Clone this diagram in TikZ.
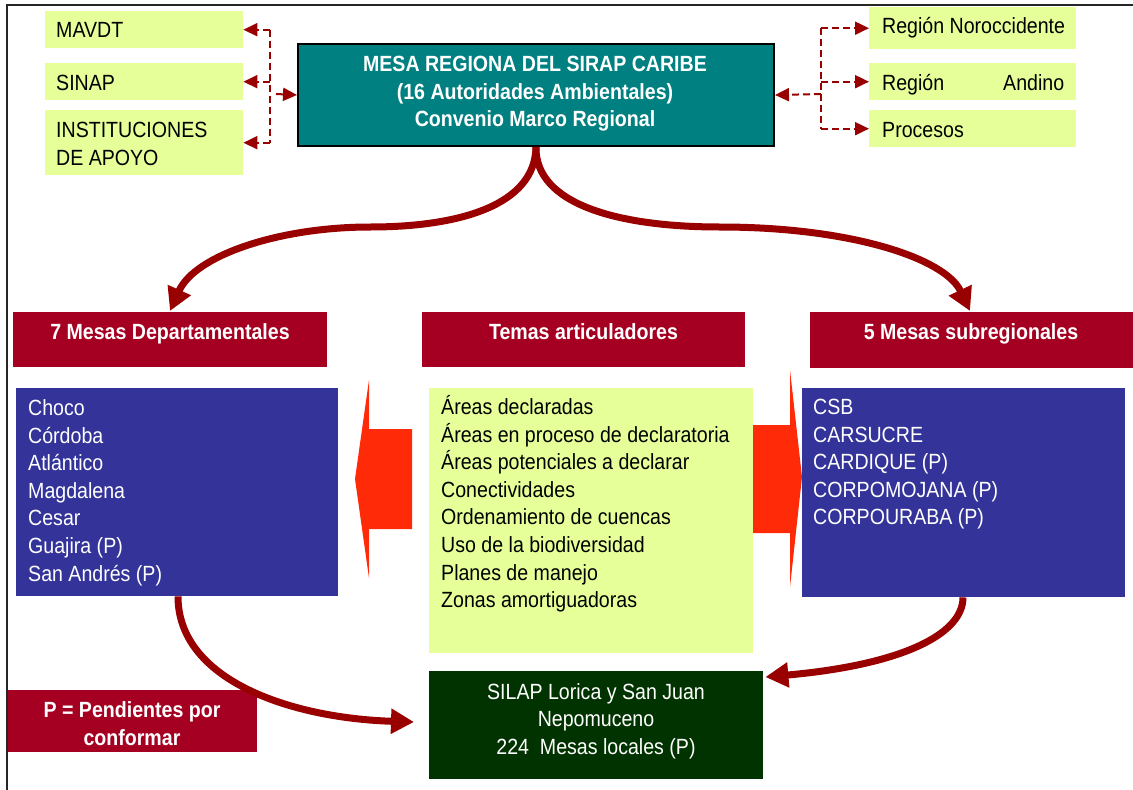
\documentclass[tikz,border=0pt]{standalone}
\usepackage{fontspec}
\setmainfont{Liberation Sans}[FakeStretch=0.89]
\usetikzlibrary{arrows.meta,calc}
\definecolor{boxlime}{HTML}{E6FF99}
\definecolor{tealbox}{HTML}{008080}
\definecolor{crimbox}{HTML}{A50021}
\definecolor{bluebox}{HTML}{333399}
\definecolor{greenbox}{HTML}{003300}
\definecolor{arrowred}{HTML}{990000}
\definecolor{blockred}{HTML}{FF2A08}
\tikzset{
  fbox/.style={rectangle, inner sep=0pt, anchor=north west},
  txt/.style={inner sep=0pt, font=\fontsize{22}{27.6}\selectfont},
  btxt/.style={inner sep=0pt, font=\fontsize{22}{27.6}\selectfont\bfseries},
  dasharr/.style={draw=arrowred, line width=2pt, dash pattern=on 7pt off 4pt, -{Triangle[length=14pt,width=13pt]}},
  dashline/.style={draw=arrowred, line width=2pt, dash pattern=on 7pt off 4pt},
  bigarr/.style={draw=arrowred, line width=7pt, -{Triangle[length=23pt,width=24pt]}},
}
\begin{document}
\begin{tikzpicture}[x=1pt,y=-1pt]
\useasboundingbox (0,0) rectangle (1133,790);
\fill[white] (0,0) rectangle (1133,790);
\draw[line width=2pt, black!85] (7,790) -- (7,5) -- (1133,5);

% top left boxes
\node[fbox, fill=boxlime, minimum width=198, minimum height=37] (mavdt) at (45,11) {};
\node[fbox, fill=boxlime, minimum width=198, minimum height=37] (sinap) at (45,63) {};
\node[fbox, fill=boxlime, minimum width=198, minimum height=65] (inst) at (45,110) {};
\node[txt, anchor=base west] (tmavdt) at (56,37.5) {MAVDT};
\node[txt, anchor=base west] (tsinap) at (56,90.5) {SINAP};
\node[txt, anchor=north west, align=left] (tinst) at (56,118) {\strut INSTITUCIONES\\DE APOYO};

% top right boxes
\node[fbox, fill=boxlime, minimum width=207, minimum height=42] (noro) at (869,7) {};
\node[fbox, fill=boxlime, minimum width=207, minimum height=37] (andino) at (869,63) {};
\node[fbox, fill=boxlime, minimum width=207, minimum height=37] (proc) at (869,110) {};
\node[txt, anchor=base west] (tnoro) at (882,33.5) {Región Noroccidente};
\node[txt, anchor=base west] (tandino) at (882,90.5) {\makebox[182pt]{Región\hfill Andino}};
\node[txt, anchor=base west] (tproc) at (882,137.5) {Procesos};

% main box
\node[fbox, fill=tealbox, draw=black, line width=2pt, minimum width=476, minimum height=102] (main) at (297,43) {};
\node[btxt, text=white, anchor=north, align=center] (tmain) at (535,52) {\strut MESA REGIONA DEL SIRAP CARIBE\\(16 Autoridades Ambientales)\\Convenio Marco Regional};

% dashed connectors left
\coordinate (lj) at (270,94);
\draw[dashline] (lj |- mavdt.east) -- (lj |- inst.east);
\draw[dasharr] (lj |- mavdt.east) -- (mavdt.east);
\draw[dasharr] (lj |- sinap.east) -- (sinap.east);
\draw[dasharr] (lj |- inst.east) -- (inst.east);
\draw[dasharr] ([xshift=6pt]lj) -- (main.west);

% dashed connectors right
\coordinate (rj) at (821,94);
\draw[dashline] (rj |- noro.west) -- (rj |- proc.west);
\draw[dasharr] (rj |- noro.west) -- (noro.west);
\draw[dasharr] (rj |- andino.west) -- (andino.west);
\draw[dasharr] (rj |- proc.west) -- (proc.west);
\draw[dasharr] (rj) -- (main.east);

% headers
\node[fbox, fill=crimbox, minimum width=314, minimum height=55] (hdep) at (13,312) {};
\node[fbox, fill=crimbox, minimum width=323, minimum height=55] (htem) at (422,312) {};
\node[fbox, fill=crimbox, minimum width=323, minimum height=56] (hsub) at (810,312) {};
\node[btxt, text=white, anchor=base] (thdep) at (170,339.5) {7 Mesas Departamentales};
\node[btxt, text=white, anchor=base] (thtem) at (583.5,339.5) {Temas articuladores};
\node[btxt, text=white, anchor=base] (thsub) at (971,339.5) {5 Mesas subregionales};

% curved arrows from main
\draw[bigarr] (main.south) .. controls (535,205) and (460,227) .. (370,227)
   .. controls (280,227) and (195,255) .. ([shift={(157,-1)}]hdep.north west);
\draw[bigarr] (main.south) .. controls (535,205) and (620,227) .. (720,227)
   .. controls (850,227) and (945,258) .. ([shift={(160,-1)}]hsub.north west);

% lists
\node[fbox, fill=bluebox, minimum width=322, minimum height=208] (dep) at (16,388) {};
\node[fbox, fill=bluebox, minimum width=323, minimum height=209] (sub) at (802,388) {};
\node[fbox, fill=boxlime, minimum width=324, minimum height=265] (tem) at (429,388) {};
\node[txt, text=white, anchor=north west, align=left] (tdep) at (28,396)
  {\strut Choco\\Córdoba\\Atlántico\\Magdalena\\Cesar\\Guajira (P)\\San Andrés (P)};
\node[txt, text=white, anchor=north west, align=left] (tsub) at (813,395)
  {\strut CSB\\CARSUCRE\\CARDIQUE (P)\\CORPOMOJANA (P)\\CORPOURABA (P)};
\node[txt, anchor=north west, align=left] (ttem) at (441,395)
  {\strut Áreas declaradas\\Áreas en proceso de declaratoria\\Áreas potenciales a declarar\\Conectividades\\Ordenamiento de cuencas\\Uso de la biodiversidad\\Planes de manejo\\Zonas amortiguadoras};

% block arrows
\fill[blockred] (412,429) -- (369,429) -- (369,380) -- (355,479) -- (369,578) -- (369,529) -- (412,529) -- cycle;
\fill[blockred] (753,425) -- (790,425) -- (790,370) -- (802,477) -- (790,587) -- (790,533) -- (753,533) -- cycle;

% bottom
\node[fbox, fill=greenbox, minimum width=334, minimum height=108] (silap) at (429,671) {};
\node[txt, text=white, anchor=north, align=center] (tsilap) at (596,679.5)
  {\strut SILAP Lorica y San Juan\\Nepomuceno\\224\ \ Mesas locales (P)};
\node[fbox, fill=crimbox, minimum width=249, minimum height=62] (pbox) at (8,690) {};
\node[btxt, text=white, anchor=north, align=center] (tpbox) at (132,698)
  {\strut P = Pendientes por\\conformar};

\draw[bigarr] ([xshift=162pt]dep.south west) .. controls (178,680) and (290,718) .. ([shift={(-15,51)}]silap.north west);
\draw[bigarr] ([xshift=161pt]sub.south west) .. controls (963,635) and (900,665) .. ([shift={(2,6)}]silap.north east);
\end{tikzpicture}
\end{document}
